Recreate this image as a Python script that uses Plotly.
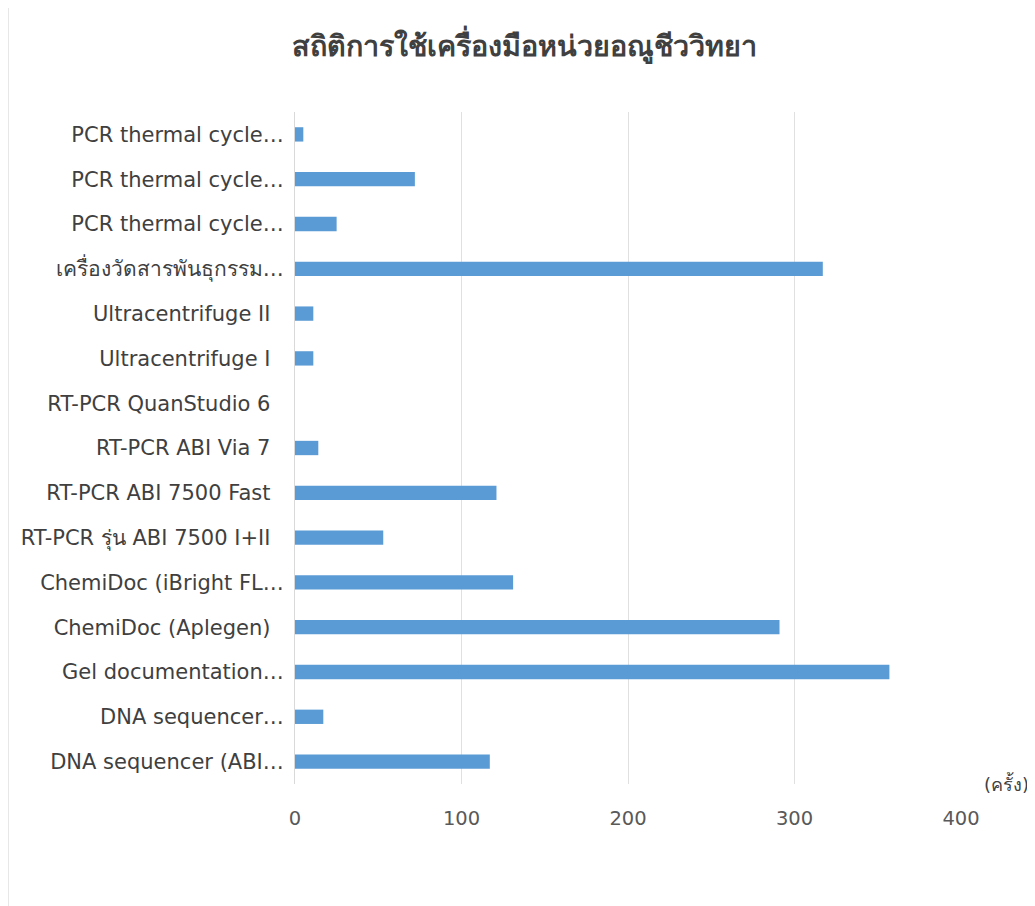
import plotly.graph_objects as go

title_text = "สถิติการใช้เครื่องมือหน่วยอณูชีววิทยา"
unit_label = "(ครั้ง)"

# categories from bottom to top (labels as truncated in the original chart)
categories = [
    "DNA sequencer (ABI…",
    "DNA sequencer…",
    "Gel documentation…",
    "ChemiDoc (Aplegen)",
    "ChemiDoc (iBright FL…",
    "RT-PCR รุ่น ABI 7500 I+II",
    "RT-PCR ABI 7500 Fast",
    "RT-PCR ABI Via 7",
    "RT-PCR QuanStudio 6",
    "Ultracentrifuge I",
    "Ultracentrifuge II",
    "เครื่องวัดสารพันธุกรรม…",
    "PCR thermal cycle…",
    "PCR thermal cycle…",
    "PCR thermal cycle…",
]
values = [117, 17, 357, 291, 131, 53, 121, 14, 0, 11, 11, 317, 25, 72, 5]
tick_vals = [0, 100, 200, 300, 400]

positions = list(range(len(categories)))
labels = [c if c.endswith("…") else c + "\u00a0\u00a0" for c in categories]

font_family = "DejaVu Sans, Noto Sans, sans-serif"
title_family = "Noto Sans, sans-serif"

# page body has an 8px margin; compensate so the plot lands where the reference has it
L, T, R, B = 287, 104, 82, 130
PW = 1035 - L - R

fig = go.Figure(
    go.Bar(
        x=values,
        y=positions,
        orientation="h",
        marker=dict(color="#5b9bd5", line=dict(width=0)),
        width=0.32,
    )
)

fig.update_layout(
    width=1035,
    height=906,
    paper_bgcolor="white",
    plot_bgcolor="white",
    margin=dict(l=L, r=R, t=T, b=B, autoexpand=False),
    title=dict(
        text="<b>" + title_text + "</b>",
        x=(524 - 8) / 1035,
        xanchor="center",
        y=1 - (46 - 8) / 906,
        yanchor="middle",
        font=dict(family=title_family, size=28.7, color="#404040"),
    ),
    font=dict(family=font_family, color="#404040"),
    showlegend=False,
    annotations=[
        dict(
            text=unit_label,
            xref="paper",
            yref="paper",
            x=1.0,
            y=0.0,
            xanchor="left",
            yanchor="bottom",
            xshift=21,
            yshift=-13,
            showarrow=False,
            font=dict(family=font_family, size=18, color="#404040"),
        )
    ],
    shapes=[
        dict(
            type="line",
            xref="paper",
            yref="paper",
            x0=-L / PW,
            x1=-L / PW,
            y0=-0.3,
            y1=1.3,
            line=dict(color="#d0d0d0", width=1),
        )
    ],
)

fig.update_xaxes(
    range=[0, 400],
    tickvals=tick_vals,
    showgrid=True,
    gridcolor="#e0e0e0",
    gridwidth=1,
    zeroline=False,
    showline=False,
    ticks="",
    ticklabelstandoff=20,
    tickfont=dict(family=font_family, size=19.5, color="#595959"),
    automargin=False,
)
fig.update_yaxes(
    range=[-0.5, len(categories) - 0.5],
    tickvals=positions,
    ticktext=labels,
    showgrid=False,
    showline=True,
    linecolor="#d9d9d9",
    linewidth=1,
    ticks="",
    ticklabelstandoff=6,
    tickfont=dict(family=font_family, size=21, color="#404040"),
    automargin=False,
)

fig.write_html("out.html")
